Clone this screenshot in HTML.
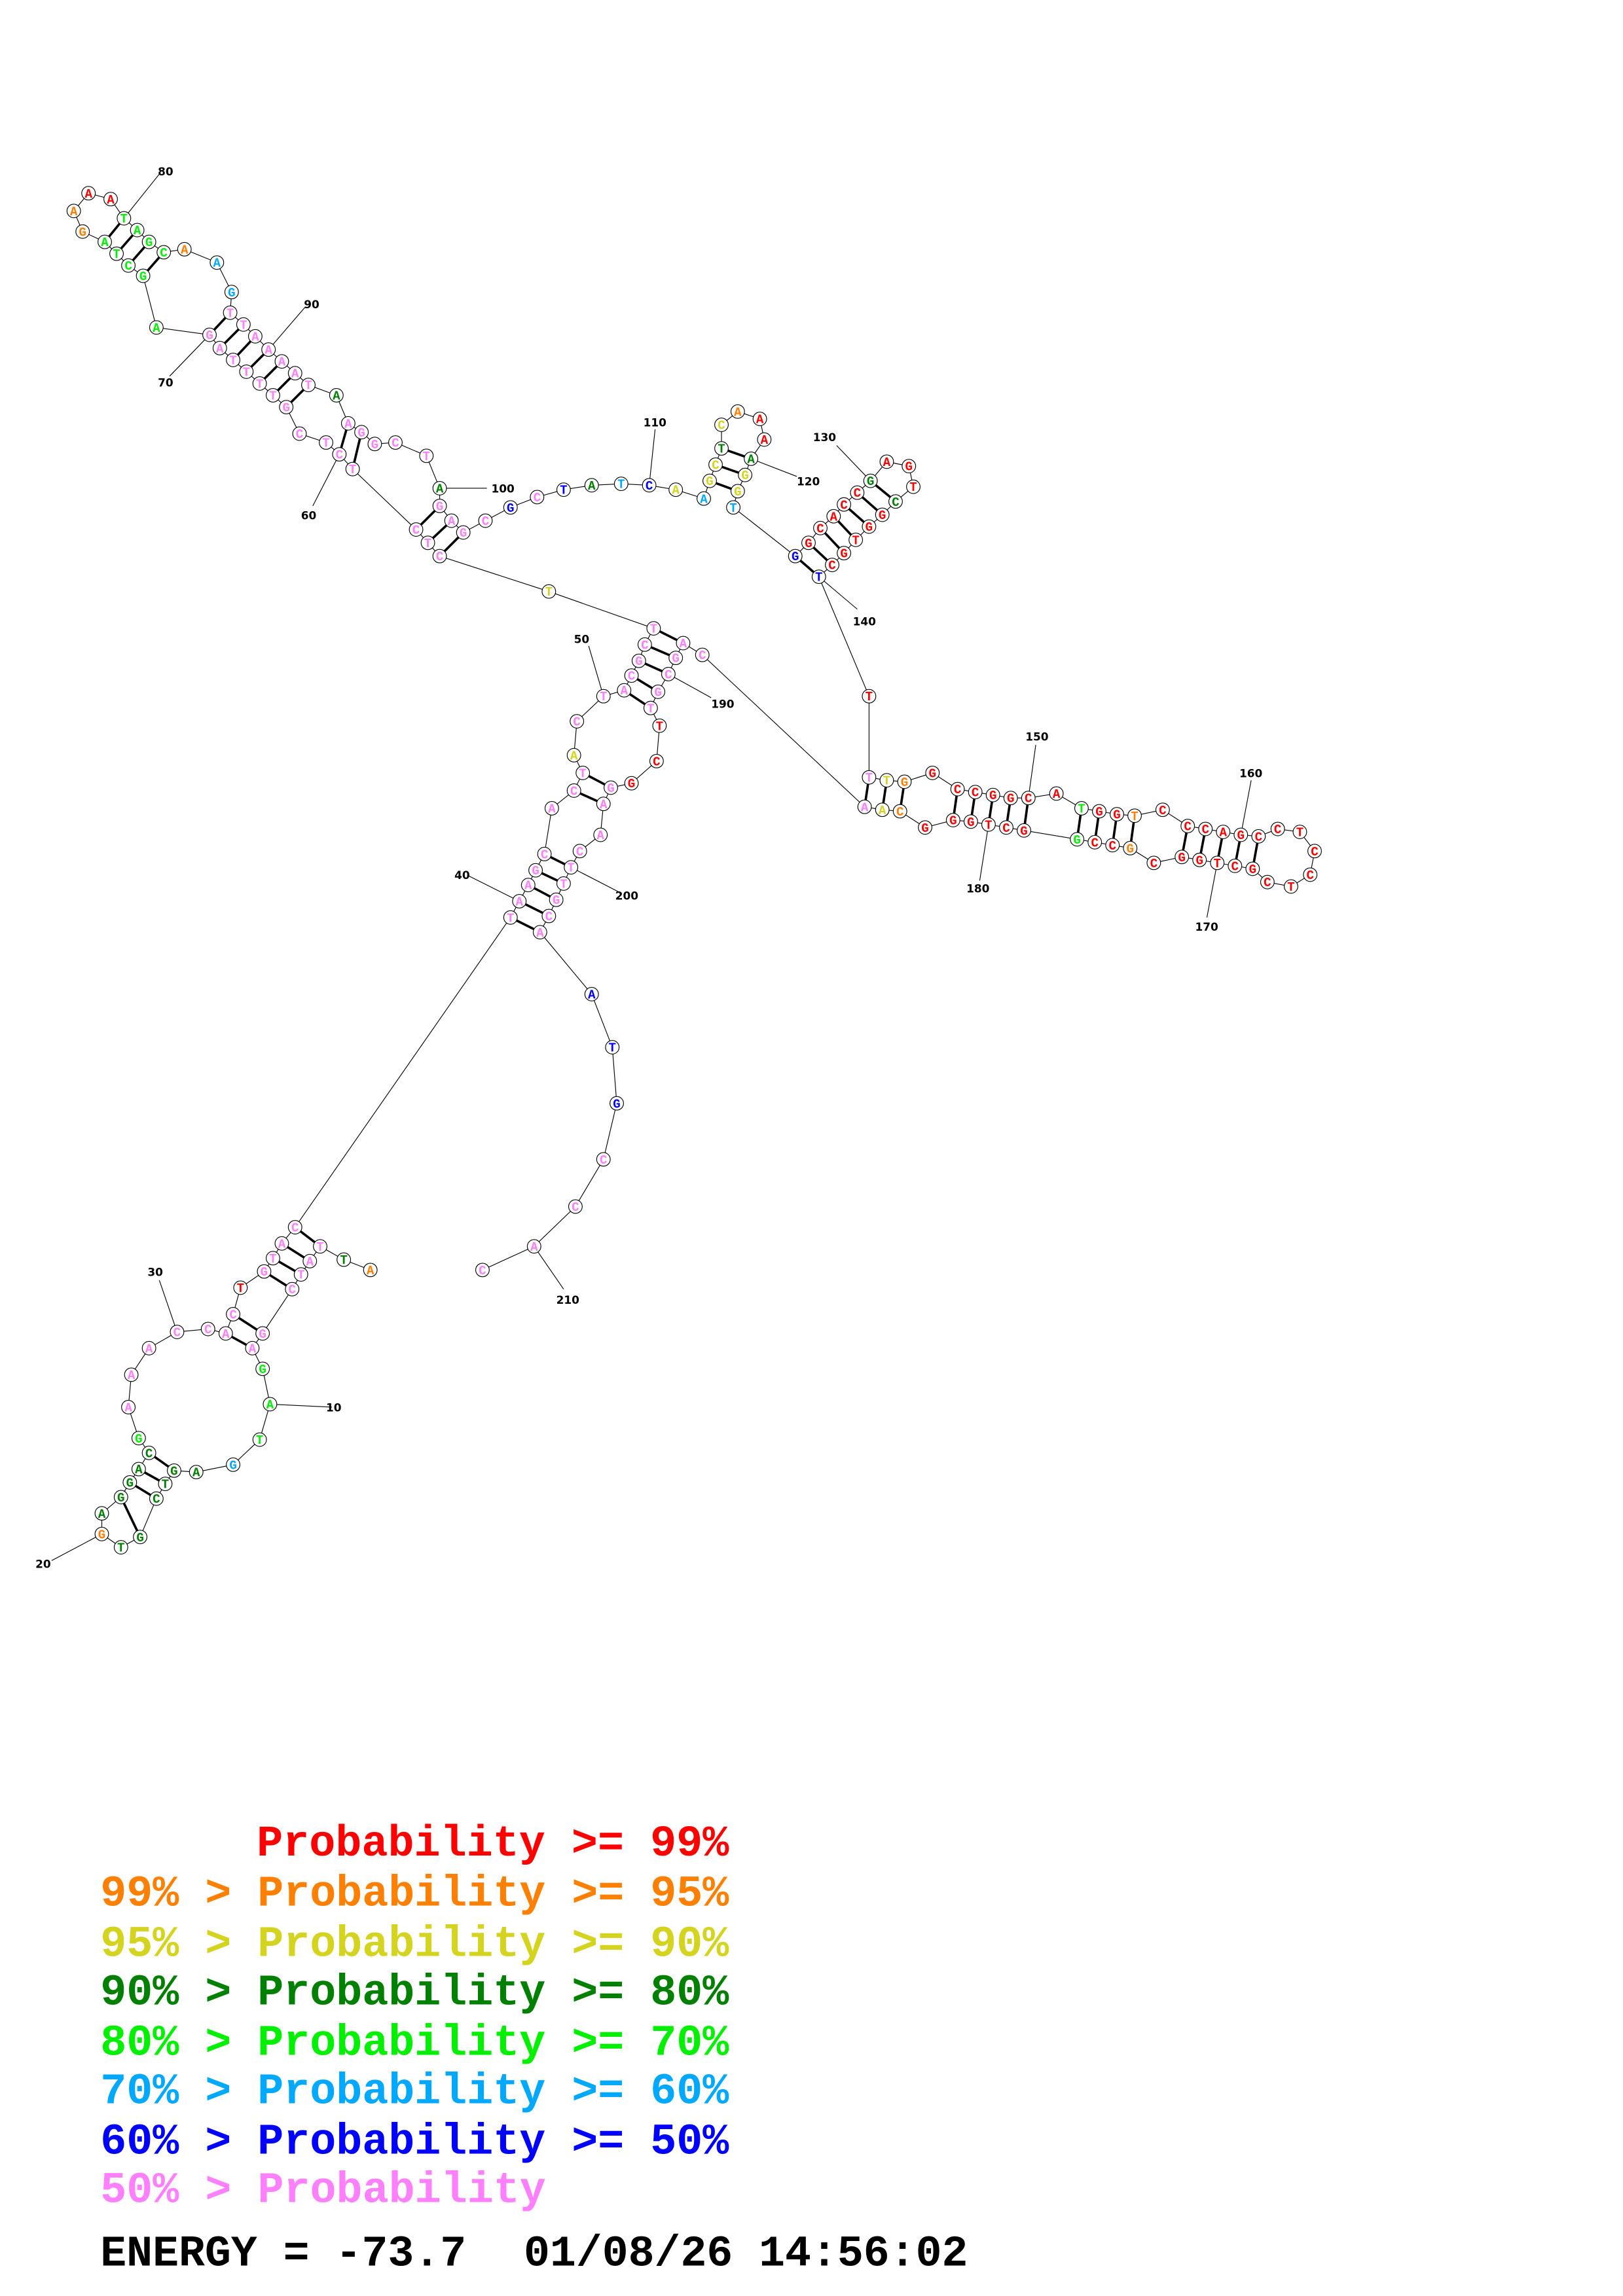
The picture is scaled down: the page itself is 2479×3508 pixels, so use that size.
<!DOCTYPE html>
<html><head><meta charset="utf-8"><style>
html,body{margin:0;padding:0;background:#fff;}
svg{display:block;}
.n circle{fill:#fff;stroke:#000;stroke-width:0.5;}
.n text{font-family:"Liberation Mono",monospace;font-weight:bold;font-size:8.5px;text-anchor:middle;}
.r{fill:#ff0000}.o{fill:#ff8000}.y{fill:#d4d420}.d{fill:#008000}.g{fill:#00f000}.c{fill:#00a8ff}.b{fill:#0000ff}.p{fill:#ff80ff}
.lab{font-family:"DejaVu Sans","Liberation Sans",sans-serif;font-weight:bold;font-size:7.5px;fill:#000;}
.leg{font-family:"Liberation Mono",monospace;font-weight:bold;font-size:29.6px;}
</style></head><body>
<svg xmlns="http://www.w3.org/2000/svg" width="2479" height="3508" viewBox="0 0 1100 1556.6">
<g fill="none" stroke="#000" stroke-width="0.5">
<polyline points="251,861 233,854 217,845 210,855 204,864 198,874 178,904 171,914 178,928 183,952 176,976 158,993 133,998 118,997 112,1006 106,1016 95,1042 82,1049 69,1040 69,1026 82,1015 88,1005 94,996 101,985 94,975 87,954 89,932 101,914 120,903 141,901 153,904 158,891 163,873 179,862 185,853 191,843 200,832 346,622 352,611 358,600 363,590 369,579 374,548 389,536 395,524 389,512 391,489 409,472 423,468 428,458 433,448 437,437 443,426 372,401 298,377 290,368 282,359 239,318 230,308 221,300 203,294 194,276 185,268 176,260 167,252 158,244 149,236 142,227 106,222 97,187 87,180 79,172 71,164 56,157 50,143 60,131 75,135 84,148 93,156 101,164 111,171 125,169 147,178 157,198 156,212 165,220 173,228 182,237 191,245 200,253 209,261 228,268 236,287 245,293 254,301 268,300 289,309 298,331 298,343 306,353 314,361 329,353 346,344 364,337 382,332 401,329 421,328 440,329 458,332 477,338 481,326 485,315 489,304 489,288 500,279 515,284 518,298 509,311 505,322 500,333 497,344 539,377 548,368 556,358 565,350 572,342 581,334 590,326 601,313 616,316 619,330 607,340 598,349 589,357 580,366 572,375 564,383 555,391 589,472 589,527 601,529 613,530 632,524 649,535 661,537 673,539 685,541 697,541 716,538 733,548 745,550 757,552 769,553 788,549 805,560 817,562 829,564 841,566 853,567 866,562 881,564 891,577 888,593 875,601 859,598 849,589 837,587 825,585 813,583 801,581 782,585 766,575 754,573 742,571 730,569 694,563 682,561 670,559 658,557 646,556 627,561 610,550 598,549 586,547 476,444 463,436 458,446 453,457 446,469 441,480 447,492 445,516 428,531 414,534 409,545 407,566 393,577 387,588 382,599 377,610 372,621 366,632 401,674 415,710 418,748 409,786 390,818 362,845 327,861"/>
<path d="M84,148L108,118 M182,237L207,208 M142,227L115,255 M230,308L212,343 M298,331L330,331 M440,329L444,291 M509,311L540,323 M590,326L567,302 M555,391L581,413 M697,541L702,505 M841,566L848,529 M825,585L818,622 M670,559L664,597 M453,457L482,473 M387,588L420,605 M362,845L382,874 M183,952L225,954 M69,1040L35,1058 M120,903L108,868 M352,611L318,594 M409,472L399,438"/>
</g>
<g stroke="#000" stroke-width="1.6">
<path d="M217,845L200,832M210,855L191,843M204,864L185,853M198,874L179,862M178,904L158,891M171,914L153,904M118,997L101,985M112,1006L94,996M106,1016L88,1005M95,1042L82,1015
M346,622L366,632M352,611L372,621M358,600L377,610M363,590L382,599M369,579L387,588M389,536L409,545M395,524L414,534M443,426L463,436M437,437L458,446M433,448L453,457M428,458L446,469M423,468L441,480
M298,377L314,361M290,368L306,353M282,359L298,343M194,276L209,261M185,268L200,253M176,260L191,245M167,252L182,237M158,244L173,228M149,236L165,220M142,227L156,212M71,164L84,148M79,172L93,156M87,180L101,164M97,187L111,171M239,318L245,293M230,308L236,287
M481,326L500,333M485,315L505,322M489,304L509,311M539,377L555,391M548,368L564,383M556,358L572,375M565,350L580,366M572,342L589,357M581,334L598,349M590,326L607,340
M589,527L586,547M601,529L598,549M613,530L610,550M649,535L646,556M661,537L658,557M673,539L670,559M685,541L682,561M697,541L694,563M733,548L730,569M745,550L742,571M757,552L754,573M769,553L766,575M805,560L801,581M817,562L813,583M829,564L825,585M841,566L837,587M853,567L849,589"/>
</g>
<g class="n">
<circle cx="251" cy="861" r="4.6"/><text x="251" y="863.9" class="o">A</text>
<circle cx="233" cy="854" r="4.6"/><text x="233" y="856.9" class="d">T</text>
<circle cx="217" cy="845" r="4.6"/><text x="217" y="847.9" class="p">T</text>
<circle cx="210" cy="855" r="4.6"/><text x="210" y="857.9" class="p">A</text>
<circle cx="204" cy="864" r="4.6"/><text x="204" y="866.9" class="p">T</text>
<circle cx="198" cy="874" r="4.6"/><text x="198" y="876.9" class="p">C</text>
<circle cx="178" cy="904" r="4.6"/><text x="178" y="906.9" class="p">G</text>
<circle cx="171" cy="914" r="4.6"/><text x="171" y="916.9" class="p">A</text>
<circle cx="178" cy="928" r="4.6"/><text x="178" y="930.9" class="g">G</text>
<circle cx="183" cy="952" r="4.6"/><text x="183" y="954.9" class="g">A</text>
<circle cx="176" cy="976" r="4.6"/><text x="176" y="978.9" class="g">T</text>
<circle cx="158" cy="993" r="4.6"/><text x="158" y="995.9" class="c">G</text>
<circle cx="133" cy="998" r="4.6"/><text x="133" y="1000.9" class="d">A</text>
<circle cx="118" cy="997" r="4.6"/><text x="118" y="999.9" class="d">G</text>
<circle cx="112" cy="1006" r="4.6"/><text x="112" y="1008.9" class="d">T</text>
<circle cx="106" cy="1016" r="4.6"/><text x="106" y="1018.9" class="d">C</text>
<circle cx="95" cy="1042" r="4.6"/><text x="95" y="1044.9" class="d">G</text>
<circle cx="82" cy="1049" r="4.6"/><text x="82" y="1051.9" class="d">T</text>
<circle cx="69" cy="1040" r="4.6"/><text x="69" y="1042.9" class="o">G</text>
<circle cx="69" cy="1026" r="4.6"/><text x="69" y="1028.9" class="d">A</text>
<circle cx="82" cy="1015" r="4.6"/><text x="82" y="1017.9" class="d">G</text>
<circle cx="88" cy="1005" r="4.6"/><text x="88" y="1007.9" class="d">G</text>
<circle cx="94" cy="996" r="4.6"/><text x="94" y="998.9" class="d">A</text>
<circle cx="101" cy="985" r="4.6"/><text x="101" y="987.9" class="d">C</text>
<circle cx="94" cy="975" r="4.6"/><text x="94" y="977.9" class="g">G</text>
<circle cx="87" cy="954" r="4.6"/><text x="87" y="956.9" class="p">A</text>
<circle cx="89" cy="932" r="4.6"/><text x="89" y="934.9" class="p">A</text>
<circle cx="101" cy="914" r="4.6"/><text x="101" y="916.9" class="p">A</text>
<circle cx="120" cy="903" r="4.6"/><text x="120" y="905.9" class="p">C</text>
<circle cx="141" cy="901" r="4.6"/><text x="141" y="903.9" class="p">C</text>
<circle cx="153" cy="904" r="4.6"/><text x="153" y="906.9" class="p">A</text>
<circle cx="158" cy="891" r="4.6"/><text x="158" y="893.9" class="p">C</text>
<circle cx="163" cy="873" r="4.6"/><text x="163" y="875.9" class="r">T</text>
<circle cx="179" cy="862" r="4.6"/><text x="179" y="864.9" class="p">G</text>
<circle cx="185" cy="853" r="4.6"/><text x="185" y="855.9" class="p">T</text>
<circle cx="191" cy="843" r="4.6"/><text x="191" y="845.9" class="p">A</text>
<circle cx="200" cy="832" r="4.6"/><text x="200" y="834.9" class="p">C</text>
<circle cx="346" cy="622" r="4.6"/><text x="346" y="624.9" class="p">T</text>
<circle cx="352" cy="611" r="4.6"/><text x="352" y="613.9" class="p">A</text>
<circle cx="358" cy="600" r="4.6"/><text x="358" y="602.9" class="p">A</text>
<circle cx="363" cy="590" r="4.6"/><text x="363" y="592.9" class="p">G</text>
<circle cx="369" cy="579" r="4.6"/><text x="369" y="581.9" class="p">C</text>
<circle cx="374" cy="548" r="4.6"/><text x="374" y="550.9" class="p">A</text>
<circle cx="389" cy="536" r="4.6"/><text x="389" y="538.9" class="p">C</text>
<circle cx="395" cy="524" r="4.6"/><text x="395" y="526.9" class="p">T</text>
<circle cx="389" cy="512" r="4.6"/><text x="389" y="514.9" class="y">A</text>
<circle cx="391" cy="489" r="4.6"/><text x="391" y="491.9" class="p">C</text>
<circle cx="409" cy="472" r="4.6"/><text x="409" y="474.9" class="p">T</text>
<circle cx="423" cy="468" r="4.6"/><text x="423" y="470.9" class="p">A</text>
<circle cx="428" cy="458" r="4.6"/><text x="428" y="460.9" class="p">C</text>
<circle cx="433" cy="448" r="4.6"/><text x="433" y="450.9" class="p">G</text>
<circle cx="437" cy="437" r="4.6"/><text x="437" y="439.9" class="p">C</text>
<circle cx="443" cy="426" r="4.6"/><text x="443" y="428.9" class="p">T</text>
<circle cx="372" cy="401" r="4.6"/><text x="372" y="403.9" class="y">T</text>
<circle cx="298" cy="377" r="4.6"/><text x="298" y="379.9" class="p">C</text>
<circle cx="290" cy="368" r="4.6"/><text x="290" y="370.9" class="p">T</text>
<circle cx="282" cy="359" r="4.6"/><text x="282" y="361.9" class="p">C</text>
<circle cx="239" cy="318" r="4.6"/><text x="239" y="320.9" class="p">T</text>
<circle cx="230" cy="308" r="4.6"/><text x="230" y="310.9" class="p">C</text>
<circle cx="221" cy="300" r="4.6"/><text x="221" y="302.9" class="p">T</text>
<circle cx="203" cy="294" r="4.6"/><text x="203" y="296.9" class="p">C</text>
<circle cx="194" cy="276" r="4.6"/><text x="194" y="278.9" class="p">G</text>
<circle cx="185" cy="268" r="4.6"/><text x="185" y="270.9" class="p">T</text>
<circle cx="176" cy="260" r="4.6"/><text x="176" y="262.9" class="p">T</text>
<circle cx="167" cy="252" r="4.6"/><text x="167" y="254.9" class="p">T</text>
<circle cx="158" cy="244" r="4.6"/><text x="158" y="246.9" class="p">T</text>
<circle cx="149" cy="236" r="4.6"/><text x="149" y="238.9" class="p">A</text>
<circle cx="142" cy="227" r="4.6"/><text x="142" y="229.9" class="p">G</text>
<circle cx="106" cy="222" r="4.6"/><text x="106" y="224.9" class="g">A</text>
<circle cx="97" cy="187" r="4.6"/><text x="97" y="189.9" class="g">G</text>
<circle cx="87" cy="180" r="4.6"/><text x="87" y="182.9" class="g">C</text>
<circle cx="79" cy="172" r="4.6"/><text x="79" y="174.9" class="g">T</text>
<circle cx="71" cy="164" r="4.6"/><text x="71" y="166.9" class="g">A</text>
<circle cx="56" cy="157" r="4.6"/><text x="56" y="159.9" class="o">G</text>
<circle cx="50" cy="143" r="4.6"/><text x="50" y="145.9" class="o">A</text>
<circle cx="60" cy="131" r="4.6"/><text x="60" y="133.9" class="r">A</text>
<circle cx="75" cy="135" r="4.6"/><text x="75" y="137.9" class="r">A</text>
<circle cx="84" cy="148" r="4.6"/><text x="84" y="150.9" class="g">T</text>
<circle cx="93" cy="156" r="4.6"/><text x="93" y="158.9" class="g">A</text>
<circle cx="101" cy="164" r="4.6"/><text x="101" y="166.9" class="g">G</text>
<circle cx="111" cy="171" r="4.6"/><text x="111" y="173.9" class="g">C</text>
<circle cx="125" cy="169" r="4.6"/><text x="125" y="171.9" class="o">A</text>
<circle cx="147" cy="178" r="4.6"/><text x="147" y="180.9" class="c">A</text>
<circle cx="157" cy="198" r="4.6"/><text x="157" y="200.9" class="c">G</text>
<circle cx="156" cy="212" r="4.6"/><text x="156" y="214.9" class="p">T</text>
<circle cx="165" cy="220" r="4.6"/><text x="165" y="222.9" class="p">T</text>
<circle cx="173" cy="228" r="4.6"/><text x="173" y="230.9" class="p">A</text>
<circle cx="182" cy="237" r="4.6"/><text x="182" y="239.9" class="p">A</text>
<circle cx="191" cy="245" r="4.6"/><text x="191" y="247.9" class="p">A</text>
<circle cx="200" cy="253" r="4.6"/><text x="200" y="255.9" class="p">A</text>
<circle cx="209" cy="261" r="4.6"/><text x="209" y="263.9" class="p">T</text>
<circle cx="228" cy="268" r="4.6"/><text x="228" y="270.9" class="d">A</text>
<circle cx="236" cy="287" r="4.6"/><text x="236" y="289.9" class="p">A</text>
<circle cx="245" cy="293" r="4.6"/><text x="245" y="295.9" class="p">G</text>
<circle cx="254" cy="301" r="4.6"/><text x="254" y="303.9" class="p">G</text>
<circle cx="268" cy="300" r="4.6"/><text x="268" y="302.9" class="p">C</text>
<circle cx="289" cy="309" r="4.6"/><text x="289" y="311.9" class="p">T</text>
<circle cx="298" cy="331" r="4.6"/><text x="298" y="333.9" class="d">A</text>
<circle cx="298" cy="343" r="4.6"/><text x="298" y="345.9" class="p">G</text>
<circle cx="306" cy="353" r="4.6"/><text x="306" y="355.9" class="p">A</text>
<circle cx="314" cy="361" r="4.6"/><text x="314" y="363.9" class="p">G</text>
<circle cx="329" cy="353" r="4.6"/><text x="329" y="355.9" class="p">C</text>
<circle cx="346" cy="344" r="4.6"/><text x="346" y="346.9" class="b">G</text>
<circle cx="364" cy="337" r="4.6"/><text x="364" y="339.9" class="p">C</text>
<circle cx="382" cy="332" r="4.6"/><text x="382" y="334.9" class="b">T</text>
<circle cx="401" cy="329" r="4.6"/><text x="401" y="331.9" class="d">A</text>
<circle cx="421" cy="328" r="4.6"/><text x="421" y="330.9" class="c">T</text>
<circle cx="440" cy="329" r="4.6"/><text x="440" y="331.9" class="b">C</text>
<circle cx="458" cy="332" r="4.6"/><text x="458" y="334.9" class="y">A</text>
<circle cx="477" cy="338" r="4.6"/><text x="477" y="340.9" class="c">A</text>
<circle cx="481" cy="326" r="4.6"/><text x="481" y="328.9" class="y">G</text>
<circle cx="485" cy="315" r="4.6"/><text x="485" y="317.9" class="y">C</text>
<circle cx="489" cy="304" r="4.6"/><text x="489" y="306.9" class="d">T</text>
<circle cx="489" cy="288" r="4.6"/><text x="489" y="290.9" class="y">C</text>
<circle cx="500" cy="279" r="4.6"/><text x="500" y="281.9" class="o">A</text>
<circle cx="515" cy="284" r="4.6"/><text x="515" y="286.9" class="r">A</text>
<circle cx="518" cy="298" r="4.6"/><text x="518" y="300.9" class="r">A</text>
<circle cx="509" cy="311" r="4.6"/><text x="509" y="313.9" class="d">A</text>
<circle cx="505" cy="322" r="4.6"/><text x="505" y="324.9" class="y">G</text>
<circle cx="500" cy="333" r="4.6"/><text x="500" y="335.9" class="y">G</text>
<circle cx="497" cy="344" r="4.6"/><text x="497" y="346.9" class="c">T</text>
<circle cx="539" cy="377" r="4.6"/><text x="539" y="379.9" class="b">G</text>
<circle cx="548" cy="368" r="4.6"/><text x="548" y="370.9" class="r">G</text>
<circle cx="556" cy="358" r="4.6"/><text x="556" y="360.9" class="r">C</text>
<circle cx="565" cy="350" r="4.6"/><text x="565" y="352.9" class="r">A</text>
<circle cx="572" cy="342" r="4.6"/><text x="572" y="344.9" class="r">C</text>
<circle cx="581" cy="334" r="4.6"/><text x="581" y="336.9" class="r">C</text>
<circle cx="590" cy="326" r="4.6"/><text x="590" y="328.9" class="d">G</text>
<circle cx="601" cy="313" r="4.6"/><text x="601" y="315.9" class="r">A</text>
<circle cx="616" cy="316" r="4.6"/><text x="616" y="318.9" class="r">G</text>
<circle cx="619" cy="330" r="4.6"/><text x="619" y="332.9" class="r">T</text>
<circle cx="607" cy="340" r="4.6"/><text x="607" y="342.9" class="d">C</text>
<circle cx="598" cy="349" r="4.6"/><text x="598" y="351.9" class="r">G</text>
<circle cx="589" cy="357" r="4.6"/><text x="589" y="359.9" class="r">G</text>
<circle cx="580" cy="366" r="4.6"/><text x="580" y="368.9" class="r">T</text>
<circle cx="572" cy="375" r="4.6"/><text x="572" y="377.9" class="r">G</text>
<circle cx="564" cy="383" r="4.6"/><text x="564" y="385.9" class="r">C</text>
<circle cx="555" cy="391" r="4.6"/><text x="555" y="393.9" class="b">T</text>
<circle cx="589" cy="472" r="4.6"/><text x="589" y="474.9" class="r">T</text>
<circle cx="589" cy="527" r="4.6"/><text x="589" y="529.9" class="p">T</text>
<circle cx="601" cy="529" r="4.6"/><text x="601" y="531.9" class="y">T</text>
<circle cx="613" cy="530" r="4.6"/><text x="613" y="532.9" class="o">G</text>
<circle cx="632" cy="524" r="4.6"/><text x="632" y="526.9" class="r">G</text>
<circle cx="649" cy="535" r="4.6"/><text x="649" y="537.9" class="r">C</text>
<circle cx="661" cy="537" r="4.6"/><text x="661" y="539.9" class="r">C</text>
<circle cx="673" cy="539" r="4.6"/><text x="673" y="541.9" class="r">G</text>
<circle cx="685" cy="541" r="4.6"/><text x="685" y="543.9" class="r">G</text>
<circle cx="697" cy="541" r="4.6"/><text x="697" y="543.9" class="r">C</text>
<circle cx="716" cy="538" r="4.6"/><text x="716" y="540.9" class="r">A</text>
<circle cx="733" cy="548" r="4.6"/><text x="733" y="550.9" class="g">T</text>
<circle cx="745" cy="550" r="4.6"/><text x="745" y="552.9" class="r">G</text>
<circle cx="757" cy="552" r="4.6"/><text x="757" y="554.9" class="r">G</text>
<circle cx="769" cy="553" r="4.6"/><text x="769" y="555.9" class="o">T</text>
<circle cx="788" cy="549" r="4.6"/><text x="788" y="551.9" class="r">C</text>
<circle cx="805" cy="560" r="4.6"/><text x="805" y="562.9" class="r">C</text>
<circle cx="817" cy="562" r="4.6"/><text x="817" y="564.9" class="r">C</text>
<circle cx="829" cy="564" r="4.6"/><text x="829" y="566.9" class="r">A</text>
<circle cx="841" cy="566" r="4.6"/><text x="841" y="568.9" class="r">G</text>
<circle cx="853" cy="567" r="4.6"/><text x="853" y="569.9" class="r">C</text>
<circle cx="866" cy="562" r="4.6"/><text x="866" y="564.9" class="r">C</text>
<circle cx="881" cy="564" r="4.6"/><text x="881" y="566.9" class="r">T</text>
<circle cx="891" cy="577" r="4.6"/><text x="891" y="579.9" class="r">C</text>
<circle cx="888" cy="593" r="4.6"/><text x="888" y="595.9" class="r">C</text>
<circle cx="875" cy="601" r="4.6"/><text x="875" y="603.9" class="r">T</text>
<circle cx="859" cy="598" r="4.6"/><text x="859" y="600.9" class="r">C</text>
<circle cx="849" cy="589" r="4.6"/><text x="849" y="591.9" class="r">G</text>
<circle cx="837" cy="587" r="4.6"/><text x="837" y="589.9" class="r">C</text>
<circle cx="825" cy="585" r="4.6"/><text x="825" y="587.9" class="r">T</text>
<circle cx="813" cy="583" r="4.6"/><text x="813" y="585.9" class="r">G</text>
<circle cx="801" cy="581" r="4.6"/><text x="801" y="583.9" class="r">G</text>
<circle cx="782" cy="585" r="4.6"/><text x="782" y="587.9" class="r">C</text>
<circle cx="766" cy="575" r="4.6"/><text x="766" y="577.9" class="o">G</text>
<circle cx="754" cy="573" r="4.6"/><text x="754" y="575.9" class="r">C</text>
<circle cx="742" cy="571" r="4.6"/><text x="742" y="573.9" class="r">C</text>
<circle cx="730" cy="569" r="4.6"/><text x="730" y="571.9" class="g">G</text>
<circle cx="694" cy="563" r="4.6"/><text x="694" y="565.9" class="r">G</text>
<circle cx="682" cy="561" r="4.6"/><text x="682" y="563.9" class="r">C</text>
<circle cx="670" cy="559" r="4.6"/><text x="670" y="561.9" class="r">T</text>
<circle cx="658" cy="557" r="4.6"/><text x="658" y="559.9" class="r">G</text>
<circle cx="646" cy="556" r="4.6"/><text x="646" y="558.9" class="r">G</text>
<circle cx="627" cy="561" r="4.6"/><text x="627" y="563.9" class="r">G</text>
<circle cx="610" cy="550" r="4.6"/><text x="610" y="552.9" class="o">C</text>
<circle cx="598" cy="549" r="4.6"/><text x="598" y="551.9" class="y">A</text>
<circle cx="586" cy="547" r="4.6"/><text x="586" y="549.9" class="p">A</text>
<circle cx="476" cy="444" r="4.6"/><text x="476" y="446.9" class="p">C</text>
<circle cx="463" cy="436" r="4.6"/><text x="463" y="438.9" class="p">A</text>
<circle cx="458" cy="446" r="4.6"/><text x="458" y="448.9" class="p">G</text>
<circle cx="453" cy="457" r="4.6"/><text x="453" y="459.9" class="p">C</text>
<circle cx="446" cy="469" r="4.6"/><text x="446" y="471.9" class="p">G</text>
<circle cx="441" cy="480" r="4.6"/><text x="441" y="482.9" class="p">T</text>
<circle cx="447" cy="492" r="4.6"/><text x="447" y="494.9" class="r">T</text>
<circle cx="445" cy="516" r="4.6"/><text x="445" y="518.9" class="r">C</text>
<circle cx="428" cy="531" r="4.6"/><text x="428" y="533.9" class="r">G</text>
<circle cx="414" cy="534" r="4.6"/><text x="414" y="536.9" class="p">G</text>
<circle cx="409" cy="545" r="4.6"/><text x="409" y="547.9" class="p">A</text>
<circle cx="407" cy="566" r="4.6"/><text x="407" y="568.9" class="p">A</text>
<circle cx="393" cy="577" r="4.6"/><text x="393" y="579.9" class="p">C</text>
<circle cx="387" cy="588" r="4.6"/><text x="387" y="590.9" class="p">T</text>
<circle cx="382" cy="599" r="4.6"/><text x="382" y="601.9" class="p">T</text>
<circle cx="377" cy="610" r="4.6"/><text x="377" y="612.9" class="p">G</text>
<circle cx="372" cy="621" r="4.6"/><text x="372" y="623.9" class="p">C</text>
<circle cx="366" cy="632" r="4.6"/><text x="366" y="634.9" class="p">A</text>
<circle cx="401" cy="674" r="4.6"/><text x="401" y="676.9" class="b">A</text>
<circle cx="415" cy="710" r="4.6"/><text x="415" y="712.9" class="b">T</text>
<circle cx="418" cy="748" r="4.6"/><text x="418" y="750.9" class="b">G</text>
<circle cx="409" cy="786" r="4.6"/><text x="409" y="788.9" class="p">C</text>
<circle cx="390" cy="818" r="4.6"/><text x="390" y="820.9" class="p">C</text>
<circle cx="362" cy="845" r="4.6"/><text x="362" y="847.9" class="p">A</text>
<circle cx="327" cy="861" r="4.6"/><text x="327" y="863.9" class="p">C</text>
</g>
<g class="lab">
<text x="107" y="119">80</text><text x="206" y="209">90</text><text x="107" y="262">70</text><text x="204" y="352">60</text>
<text x="333" y="334">100</text><text x="436" y="289">110</text><text x="540" y="329">120</text><text x="551" y="299">130</text>
<text x="578" y="424">140</text><text x="695" y="502">150</text><text x="840" y="527">160</text><text x="810" y="631">170</text>
<text x="655" y="605">180</text><text x="482" y="480">190</text><text x="417" y="610">200</text><text x="377" y="884">210</text>
<text x="221" y="957">10</text><text x="24" y="1063">20</text><text x="100" y="865">30</text><text x="308" y="596">40</text><text x="389" y="436">50</text>
</g>
<g class="leg">
<text x="174" y="1258" class="r" textLength="320" lengthAdjust="spacingAndGlyphs">Probability &gt;= 99%</text>
<text x="68" y="1292" class="o" textLength="426" lengthAdjust="spacingAndGlyphs">99% &gt; Probability &gt;= 95%</text>
<text x="68" y="1326" class="y" textLength="426" lengthAdjust="spacingAndGlyphs">95% &gt; Probability &gt;= 90%</text>
<text x="68" y="1359" class="d" textLength="426" lengthAdjust="spacingAndGlyphs">90% &gt; Probability &gt;= 80%</text>
<text x="68" y="1393" class="g" textLength="426" lengthAdjust="spacingAndGlyphs">80% &gt; Probability &gt;= 70%</text>
<text x="68" y="1426" class="c" textLength="426" lengthAdjust="spacingAndGlyphs">70% &gt; Probability &gt;= 60%</text>
<text x="68" y="1460" class="b" textLength="426" lengthAdjust="spacingAndGlyphs">60% &gt; Probability &gt;= 50%</text>
<text x="68" y="1493" class="p" textLength="302" lengthAdjust="spacingAndGlyphs">50% &gt; Probability</text>
<text x="68" y="1536" fill="#000" textLength="248" lengthAdjust="spacingAndGlyphs">ENERGY = -73.7</text>
<text x="355" y="1536" fill="#000" textLength="301" lengthAdjust="spacingAndGlyphs">01/08/26 14:56:02</text>
</g>
</svg>
</body></html>
